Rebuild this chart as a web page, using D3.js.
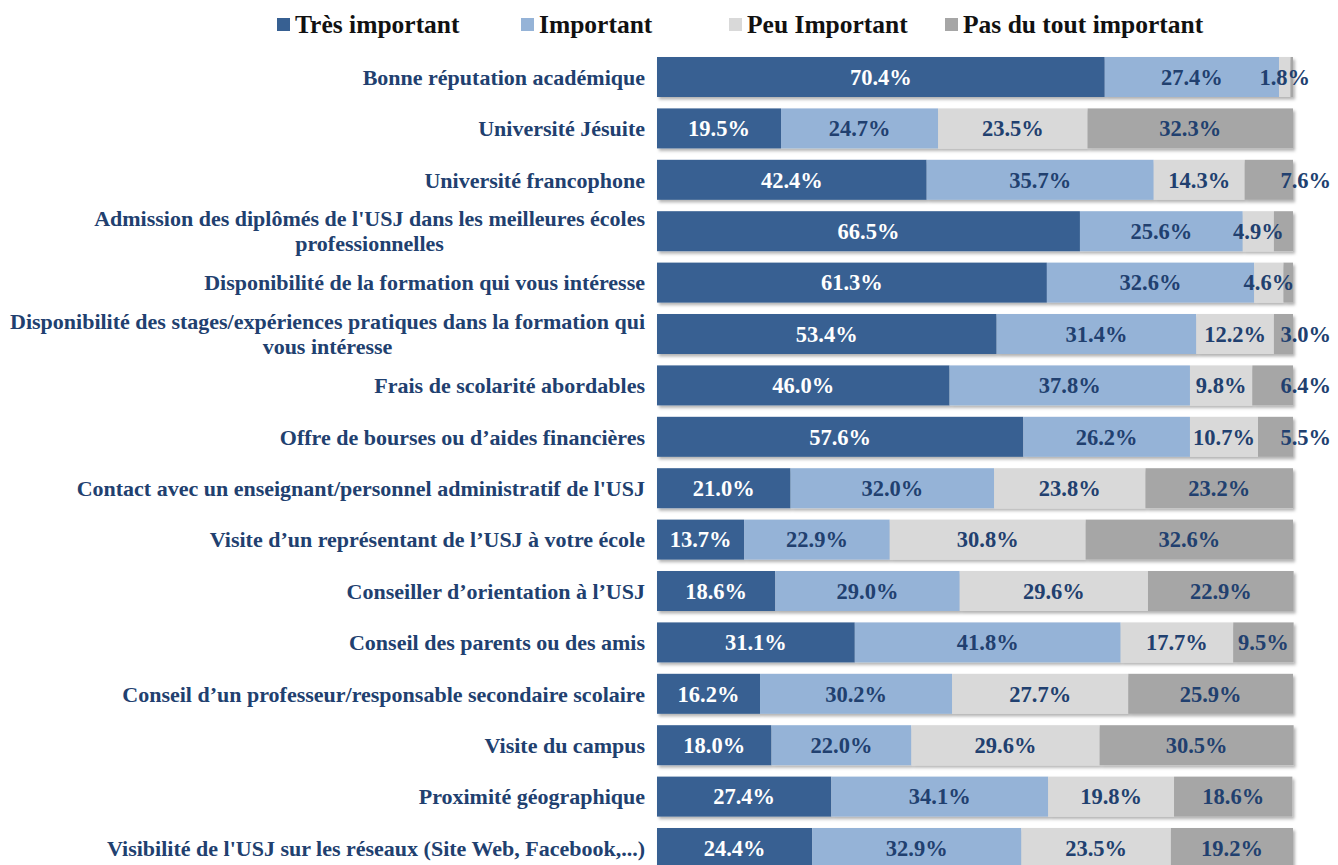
<!DOCTYPE html>
<meta charset="utf-8">
<style>
    body { margin: 0; background: #fff; }
    svg text { font-family: "Liberation Serif", "Times New Roman", serif; font-weight: bold; }
</style>
<svg width="1338" height="865"></svg>
<script src="https://d3js.org/d3.v7.min.js"></script>
<script>

    // categories (top to bottom), "\n" splits a label on two lines
    var categories = [
        "Bonne réputation académique",
        "Université Jésuite",
        "Université francophone",
        "Admission des diplômés de l'USJ dans les meilleures écoles\nprofessionnelles",
        "Disponibilité de la formation qui vous intéresse",
        "Disponibilité des stages/expériences pratiques dans la formation qui\nvous intéresse",
        "Frais de scolarité abordables",
        "Offre de bourses ou d’aides financières",
        "Contact avec un enseignant/personnel administratif de l'USJ",
        "Visite d’un représentant de l’USJ à votre école",
        "Conseiller d’orientation à l’USJ",
        "Conseil des parents ou des amis",
        "Conseil d’un professeur/responsable secondaire scolaire",
        "Visite du campus",
        "Proximité géographique",
        "Visibilité de l'USJ sur les réseaux (Site Web, Facebook,...)"
    ];

    var series = ["Très important", "Important", "Peu Important", "Pas du tout important"];

    var tresImportant = [70.4, 19.5, 42.4, 66.5, 61.3, 53.4, 46.0, 57.6, 21.0, 13.7, 18.6, 31.1, 16.2, 18.0, 27.4, 24.4];
    var important     = [27.4, 24.7, 35.7, 25.6, 32.6, 31.4, 37.8, 26.2, 32.0, 22.9, 29.0, 41.8, 30.2, 22.0, 34.1, 32.9];
    var peuImportant  = [1.8, 23.5, 14.3, 4.9, 4.6, 12.2, 9.8, 10.7, 23.8, 30.8, 29.6, 17.7, 27.7, 29.6, 19.8, 23.5];
    var pasDuTout     = [0.4, 32.3, 7.6, 3.0, 1.5, 3.0, 6.4, 5.5, 23.2, 32.6, 22.9, 9.5, 25.9, 30.5, 18.6, 19.2];

    // segments shown without a data label: [row, series]
    var unlabeled = [[0, 3], [3, 3], [4, 3]];

    var colors = ["#376092", "#95B3D7", "#D9D9D9", "#A6A6A6"];
    var textColor = "#21406F";

    var svg = d3.select("svg");

    var defs = svg.append("defs");
    defs.append("filter")
        .attr("id", "shadow")
        .attr("x", "-5%").attr("y", "-20%")
        .attr("width", "110%").attr("height", "150%")
        .append("feDropShadow")
        .attr("dx", 2).attr("dy", 2.5)
        .attr("stdDeviation", 1.5)
        .attr("flood-color", "#000")
        .attr("flood-opacity", 0.3);

    var rows = categories.map(function (c, i) {
        return {
            name: c,
            i: i,
            values: [tresImportant[i], important[i], peuImportant[i], pasDuTout[i]]
        };
    });

    var stack = d3.stack()
        .keys([0, 1, 2, 3])
        .value(function (d, k) { return d.values[k]; });
    var layers = stack(rows);

    var x = d3.scaleLinear().domain([0, 100]).range([657, 1293]);
    var y = d3.scaleBand()
        .domain(d3.range(categories.length))
        .range([51.3, 51.3 + 16 * 51.4])
        .paddingInner(0.222)
        .paddingOuter(0.111);

    // bars
    var rowG = svg.append("g").selectAll("g")
        .data(rows)
        .join("g")
        .attr("filter", "url(#shadow)");

    rowG.selectAll("rect")
        .data(function (d, i) { return layers.map(function (l) { return { k: l.key, seg: l[i], row: i }; }); })
        .join("rect")
        .attr("x", function (d) { return x(d.seg[0]); })
        .attr("y", function (d) { return y(d.row); })
        .attr("width", function (d) { return x(d.seg[1]) - x(d.seg[0]); })
        .attr("height", y.bandwidth())
        .attr("fill", function (d) { return colors[d.k]; });

    // value labels
    var isHidden = function (r, k) {
        return unlabeled.some(function (u) { return u[0] === r && u[1] === k; });
    };
    var labels = [];
    layers.forEach(function (l) {
        l.forEach(function (seg, i) {
            if (!isHidden(i, l.key)) labels.push({ k: l.key, seg: seg, row: i });
        });
    });

    svg.append("g").selectAll("text")
        .data(labels)
        .join("text")
        .attr("x", function (d) { return x((d.seg[0] + d.seg[1]) / 2); })
        .attr("y", function (d) { return y(d.row) + y.bandwidth() / 2; })
        .attr("dy", "0.35em")
        .attr("text-anchor", "middle")
        .style("font-size", "22.5px")
        .attr("fill", function (d) { return d.k === 0 ? "#fff" : textColor; })
        .text(function (d) { return (d.seg[1] - d.seg[0]).toFixed(1) + "%"; })
        .each(function (d) {
            // narrow last segments: label pushed past the bar end
            var w = this.getComputedTextLength();
            var segW = x(d.seg[1]) - x(d.seg[0]);
            if (d.k === 3 && w > segW - 4) {
                d3.select(this).attr("text-anchor", "end").attr("x", x(100) + 38);
            }
        });

    // category labels
    var catG = svg.append("g").selectAll("text")
        .data(rows)
        .join("text")
        .style("font-size", "22px")
        .attr("fill", textColor)
        .attr("text-anchor", "middle");

    catG.each(function (d) {
        var t = d3.select(this);
        var lines = d.name.split("\n");
        var lh = 25;
        var cy = y(d.i) + y.bandwidth() / 2 - (lines.length - 1) * lh / 2;
        lines.forEach(function (s, j) {
            t.append("tspan").attr("y", cy + j * lh).attr("dy", "0.35em").text(s);
        });
        var w = d3.max(t.selectAll("tspan").nodes(), function (n) { return n.getComputedTextLength(); });
        t.selectAll("tspan").attr("x", 645 - w / 2);
    });

    // legend
    var legendX = [277, 521, 729, 945];
    var leg = svg.append("g").selectAll("g")
        .data(series)
        .join("g")
        .attr("transform", function (d, i) { return "translate(" + legendX[i] + ",24.5)"; });
    leg.append("rect")
        .attr("x", 0).attr("y", -6.5)
        .attr("width", 13).attr("height", 13)
        .attr("fill", function (d, i) { return colors[i]; });
    leg.append("text")
        .attr("x", 18)
        .attr("dy", "0.35em")
        .style("font-size", "25.5px")
        .attr("fill", "#111")
        .text(function (d) { return d; });

</script>
